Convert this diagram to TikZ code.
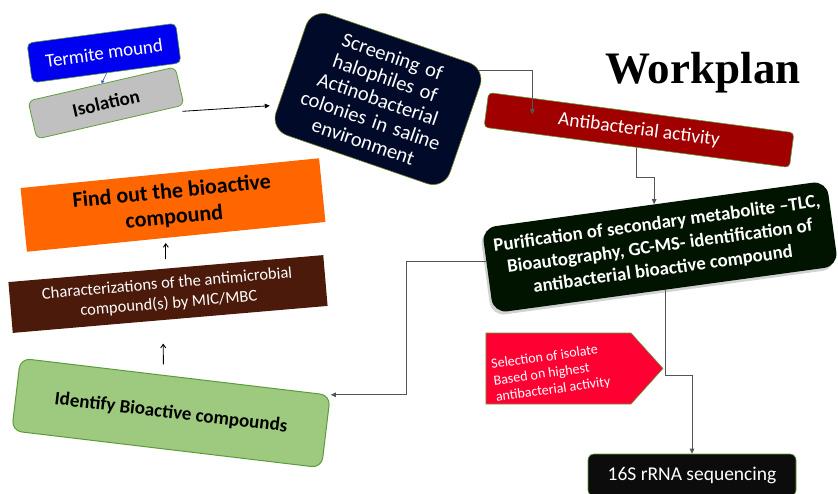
\documentclass[tikz,border=0pt]{standalone}
\usepackage{fontspec}
\setmainfont{Carlito}
\newfontfamily\wpfont{Liberation Serif}
\usepackage{graphicx}
\usetikzlibrary{arrows.meta,calc,shapes.symbols,shadows}

\definecolor{tmblue}{RGB}{0,0,240}
\definecolor{grn}{RGB}{96,160,60}
\definecolor{isogray}{RGB}{192,192,192}
\definecolor{scrnavy}{RGB}{2,10,42}
\definecolor{scrborder}{RGB}{110,130,40}
\definecolor{abred}{RGB}{160,0,0}
\definecolor{purdark}{RGB}{0,20,0}
\definecolor{selred}{RGB}{255,0,51}
\definecolor{seqblack}{RGB}{12,12,12}
\definecolor{foorange}{RGB}{255,102,0}
\definecolor{chbrown}{RGB}{76,26,10}
\definecolor{idgreen}{RGB}{157,202,126}
\definecolor{idborder}{RGB}{92,155,60}
\definecolor{connc}{RGB}{85,85,85}
\definecolor{tmarrow}{RGB}{50,80,200}

\tikzset{
  box/.style={inner sep=0pt, align=center, text=white},
  conn/.style={draw=connc, line width=0.8pt, -{Triangle[length=5pt,width=4.5pt]}},
  uparr/.style={draw=black, line width=0.9pt, -{Straight Barb[length=3.5pt,width=5pt]}},
}

\begin{document}
\begin{tikzpicture}[x=1pt,y=-1pt]
\useasboundingbox[fill=white] (0,0) rectangle (838,493);

% title
\node[anchor=base, inner sep=0pt] (wp) at (703,83) {\wpfont\bfseries\fontsize{45}{50}\selectfont Workplan};

% nodes
\node[box, rotate=7.6, minimum width=150pt, minimum height=40pt, fill=tmblue, draw=grn, line width=0.6pt, rounded corners=5pt, font=\fontsize{19}{22}\selectfont] (tm) at (104,53) {Termite mound};

\node[box, rotate=13, minimum width=151pt, minimum height=39pt, fill=isogray, draw=grn, line width=0.8pt, rounded corners=6pt, text=black, font=\bfseries\fontsize{19}{22}\selectfont] (iso) at (106,103) {Isolation};

\node[box, rotate=-19, minimum width=184pt, minimum height=128pt, fill=scrnavy, draw=scrborder, line width=0.6pt, rounded corners=18pt, text width=175pt, font=\fontsize{20.5}{22.5}\selectfont] (scr) at (378,99) {Screening of\\halophiles of\\Actinobacterial\\colonies in saline\\environment};

\node[box, rotate=-7.5, minimum width=308pt, minimum height=35pt, fill=abred, draw=grn, line width=0.6pt, rounded corners=4pt, font=\fontsize{19.5}{22}\selectfont] (ab) at (639,130) {Antibacterial activity};

\node[box, rotate=7.8, minimum width=348pt, minimum height=86pt, fill=purdark, rounded corners=14pt, drop shadow={shadow xshift=-2pt, shadow yshift=-3pt, opacity=.35}, font=\bfseries\fontsize{18.8}{23}\selectfont] (pur) at (660,247) {Purification of secondary metabolite --TLC,\\Bioautography, GC-MS- identification of\\antibacterial bioactive compound};

\node[signal, signal to=east, signal pointer angle=96, inner sep=0pt, minimum width=177pt, minimum height=71pt, fill=selred, draw=grn, line width=0.6pt,
  label={[anchor=west, rotate=8, label distance=-6pt, yshift=-14pt, inner sep=0pt, text=white, align=left, font=\fontsize{14}{16.5}\selectfont]west:{Selection of isolate\\Based on highest\\antibacterial activity}}] (sel) at (558.5,368.5) {};

\node[box, minimum width=208pt, minimum height=42pt, fill=seqblack, draw=grn, line width=0.6pt, rounded corners=6pt, font=\fontsize{19.5}{22}\selectfont] (seq) at (692,475) {16S rRNA sequencing};

\node[box, rotate=5.7, minimum width=300pt, minimum height=64pt, fill=foorange, text=black, font=\bfseries\fontsize{22}{26}\selectfont] (fo) at (173,205) {Find out the bioactive\\compound};

\node[box, rotate=4.9, minimum width=316pt, minimum height=51pt, fill=chbrown, font=\fontsize{16.5}{20}\selectfont] (ch) at (168,294) {Characterizations of the antimicrobial\\compound(s) by MIC/MBC};

\node[box, rotate=-6.8, minimum width=312pt, minimum height=73pt, fill=idgreen, draw=idborder, line width=1pt, rounded corners=10pt, text=black, font=\bfseries\fontsize{19}{22}\selectfont] (id) at (171,413) {Identify Bioactive compounds};

% connectors
\draw[draw=tmarrow, line width=0.6pt, -{Triangle[length=3pt,width=3pt]}] (tm.south) -- (iso.north);
\draw[conn, draw=black] ($(iso.south east)+(-2,6)$) -- ($(scr.200)+(-10,5)$);
\draw[conn] ($(scr.north east)+(-8,2)$) -| ($(ab.north west)+(44,22)$);
\draw[conn] (ab.south) -- ++(0,30) -| (pur.north);
\draw[conn] (pur.177) -| ($(id.north east)+(76,0)$) -- (id.north east);
\draw[conn] (pur.south) -- ++(0,86) -| (seq.north);
\draw[uparr] ([yshift=9pt]ch.north) -- ($(ch.north |- fo.south)+(0,6)$);
\draw[uparr] ($(id.north)+(-12,-12)$) -- ($(ch.south)+(-7,24)$);
\end{tikzpicture}
\end{document}
